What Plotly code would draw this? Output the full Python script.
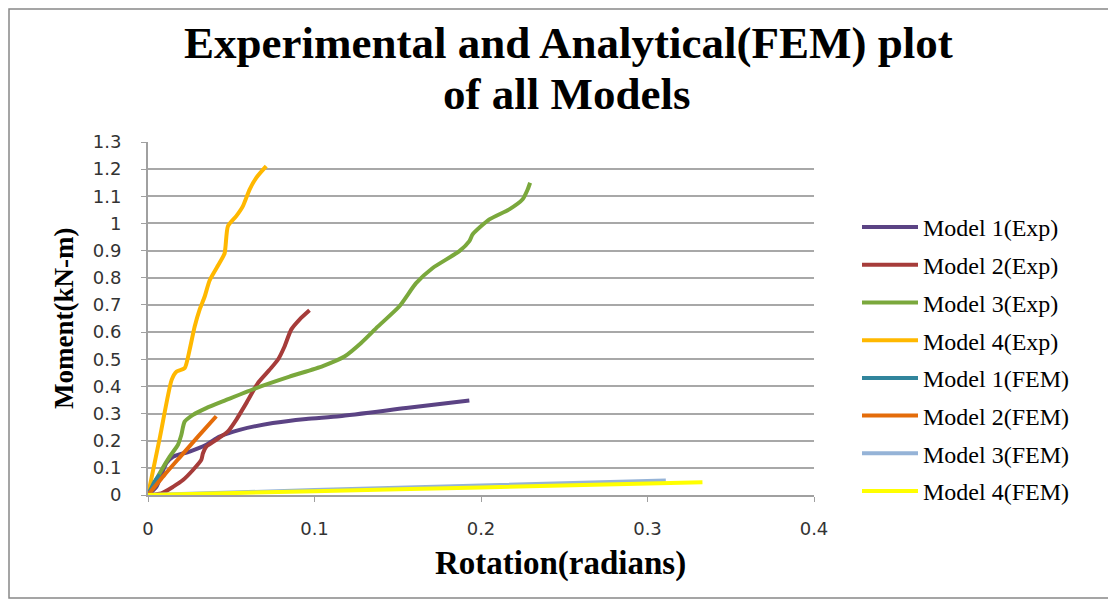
import plotly.graph_objects as go

# Model 1 (Exp)
m1e_x = [0, 0.005, 0.011, 0.015, 0.025, 0.035, 0.043, 0.055, 0.075, 0.095, 0.115, 0.155, 0.193]
m1e_y = [0, 0.03, 0.117, 0.141, 0.16, 0.185, 0.215, 0.24, 0.265, 0.28, 0.29, 0.32, 0.348]
# Model 2 (Exp)
m2e_x = [0, 0.008, 0.015, 0.021, 0.027, 0.032, 0.033, 0.035, 0.041, 0.048, 0.053, 0.059, 0.066, 0.073, 0.078, 0.082, 0.086, 0.091, 0.097]
m2e_y = [0, 0.006, 0.03, 0.055, 0.092, 0.129, 0.154, 0.178, 0.203, 0.234, 0.277, 0.338, 0.412, 0.461, 0.498, 0.547, 0.609, 0.646, 0.68]
# Model 3 (Exp)
m3e_x = [0, 0.007, 0.013, 0.018, 0.020, 0.022, 0.027, 0.035, 0.047, 0.065, 0.085, 0.105, 0.118, 0.128, 0.138, 0.151, 0.161, 0.171, 0.187, 0.193, 0.195, 0.205, 0.217, 0.225, 0.228, 0.2295]
m3e_y = [0, 0.08, 0.141, 0.185, 0.221, 0.27, 0.295, 0.32, 0.35, 0.394, 0.436, 0.475, 0.51, 0.56, 0.62, 0.695, 0.78, 0.836, 0.898, 0.935, 0.96, 1.015, 1.052, 1.089, 1.125, 1.15]
# Model 4 (Exp)
m4e_x = [0, 0.0072, 0.0142, 0.0172, 0.022, 0.025, 0.028, 0.031, 0.034, 0.037, 0.043, 0.046, 0.048, 0.053, 0.057, 0.061, 0.065, 0.071]
m4e_y = [0, 0.214, 0.424, 0.455, 0.467, 0.535, 0.62, 0.683, 0.73, 0.79, 0.855, 0.89, 0.99, 1.027, 1.064, 1.125, 1.168, 1.211]
# Model 1 (FEM)
m1f_x = [0, 0.004, 0.007]
m1f_y = [0, 0.05, 0.075]
# Model 2 (FEM)
m2f_x = [0, 0.01, 0.02, 0.03, 0.041]
m2f_y = [0, 0.075, 0.145, 0.215, 0.29]
# Model 3 (FEM)
m3f_x = [0, 0.1, 0.2, 0.311]
m3f_y = [0, 0.018, 0.035, 0.053]
# Model 4 (FEM)
m4f_x = [0, 0.1, 0.2, 0.333]
m4f_y = [0, 0.014, 0.028, 0.047]

names = ["Model 1(Exp)", "Model 2(Exp)", "Model 3(Exp)", "Model 4(Exp)",
         "Model 1(FEM)", "Model 2(FEM)", "Model 3(FEM)", "Model 4(FEM)"]
xs = [m1e_x, m2e_x, m3e_x, m4e_x, m1f_x, m2f_x, m3f_x, m4f_x]
ys = [m1e_y, m2e_y, m3e_y, m4e_y, m1f_y, m2f_y, m3f_y, m4f_y]
colors = ["#5B4384", "#A63C3A", "#7AA83C", "#FFB800",
          "#31859C", "#E46C0A", "#95B3D7", "#FFFF00"]

title_lines = ["Experimental and Analytical(FEM) plot", "of all Models"]
x_title = "Rotation(radians)"
y_title = "Moment(kN-m)"

W, H = 1108, 593
L, R, T, B = 140, 302, 134, 106
PW, PH = W - L - R, H - T - B


def px(X):
    return (X - L) / PW


def py(Y):
    return (H - B - Y) / PH


fig = go.Figure()
for i, (n, x, y, c) in enumerate(zip(names, xs, ys, colors)):
    fig.add_trace(go.Scatter(x=x, y=y, name=n, mode="lines",
                             line=dict(color=c, width=4, shape="spline", smoothing=0.6),
                             legendgroup=f"g{i}"))

tickfont = dict(family="DejaVu Sans", size=18, color="#333")
fig.update_layout(
    width=W, height=H,
    margin=dict(l=L, r=R, t=T, b=B),
    paper_bgcolor="white", plot_bgcolor="white",
    legend=dict(x=px(849), y=py(197), xanchor="left", yanchor="top",
                font=dict(family="Liberation Serif", size=24, color="black"),
                tracegroupgap=3.5, itemwidth=56, bgcolor="rgba(0,0,0,0)"),
    xaxis=dict(range=[0, 0.4], dtick=0.1, tick0=0, showgrid=False, zeroline=False,
               showline=True, linecolor="#A0A0A0", linewidth=2,
               ticks="outside", ticklen=5, tickcolor="#A0A0A0",
               ticklabelstandoff=11, tickfont=tickfont),
    yaxis=dict(range=[0, 1.3], dtick=0.1, tick0=0, showgrid=True, gridcolor="#A8A8A8",
               gridwidth=1.5, zeroline=False,
               showline=True, linecolor="#A0A0A0", linewidth=2,
               ticks="outside", ticklen=5, tickcolor="#A0A0A0",
               ticklabelstandoff=16, tickfont=tickfont),
)

titlefont = dict(family="Liberation Serif", size=45, color="black", weight="bold")
fig.add_annotation(text=title_lines[0], xref="paper", yref="paper", x=px(560), y=py(35),
                   xanchor="center", yanchor="middle", showarrow=False, font=titlefont)
fig.add_annotation(text=title_lines[1], xref="paper", yref="paper", x=px(558), y=py(86),
                   xanchor="center", yanchor="middle", showarrow=False, font=titlefont)
fig.add_annotation(text=x_title, xref="paper", yref="paper", x=px(552), y=py(555),
                   xanchor="center", yanchor="middle", showarrow=False,
                   font=dict(family="Liberation Serif", size=33, color="black", weight="bold"))
fig.add_annotation(text=y_title, xref="paper", yref="paper", x=px(56), y=py(311),
                   xanchor="center", yanchor="middle", showarrow=False, textangle=-90,
                   font=dict(family="Liberation Serif", size=27, color="black", weight="bold"))

fig.add_shape(type="rect", xref="paper", yref="paper",
              x0=px(1), x1=px(1105), y0=py(590), y1=py(1),
              line=dict(color="#888", width=1.5), fillcolor="rgba(0,0,0,0)", layer="below")

fig.write_html("out.html")
